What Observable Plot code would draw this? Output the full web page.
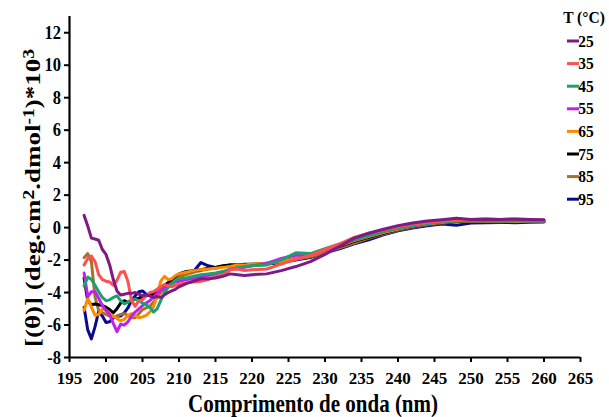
<!DOCTYPE html>
<html>
<head>
<meta charset="utf-8">
<script src="https://cdn.jsdelivr.net/npm/d3@7"></script>
<script src="https://cdn.jsdelivr.net/npm/@observablehq/plot@0.6"></script>
<style>
  body { margin: 0; background: #fff; }
  #chart { width: 609px; height: 417px; }
  #chart svg { display: block; }
  #chart svg text { font-family: "Liberation Serif", "Times New Roman", Times, serif !important; font-weight: bold; }
</style>
</head>
<body>
<div id="chart"></div>
<script>
// Wavelength grid (nm)
const wavelengths = [197, 197.5, 198, 198.5, 199, 199.5, 200, 200.5, 201, 201.5, 202, 202.5, 203, 203.5, 204, 204.5, 205, 205.5, 206, 206.5, 207, 207.5, 208, 208.5, 209, 209.5, 210, 211, 212, 213, 214, 215, 216, 217, 218, 219, 220, 222, 224, 226, 228, 230, 232, 234, 236, 238, 240, 242, 244, 246, 248, 250, 252, 254, 256, 258, 260];

// Temperatures (°C) and their colours
const temps = [25, 35, 45, 55, 65, 75, 85, 95];
const colors = ["#7d1a86", "#ff4f4f", "#1ba070", "#c21ef2", "#ff8a00", "#000000", "#a2722e", "#0a0a8a"];

// Mean residue ellipticity [θ] ×10³ at each wavelength
const t25 = [0.75, 0.1, -0.65, -0.7, -0.78, -1.35, -1.65, -2.3, -3.2, -3.9, -4.15, -4.1, -4.05, -4.05, -4.0, -4.1, -4.2, -4.15, -4.2, -4.3, -4.25, -4.3, -4.15, -4.0, -3.9, -3.8, -3.65, -3.45, -3.3, -3.15, -3.15, -3.1, -3.0, -2.85, -2.9, -2.95, -2.9, -2.85, -2.65, -2.4, -2.1, -1.65, -1.15, -0.65, -0.35, -0.1, 0.12, 0.28, 0.4, 0.48, 0.58, 0.5, 0.52, 0.5, 0.52, 0.5, 0.48];
const t35 = [-2.3, -1.9, -1.75, -2.1, -2.9, -3.2, -3.3, -3.35, -3.55, -3.25, -2.75, -2.7, -3.3, -4.5, -4.85, -4.5, -4.45, -4.2, -4.0, -3.95, -3.8, -3.65, -3.5, -3.6, -3.65, -3.55, -3.5, -3.4, -3.35, -3.3, -3.2, -3.0, -2.95, -2.6, -2.55, -2.65, -2.6, -2.55, -2.25, -1.95, -1.7, -1.35, -1.0, -0.6, -0.35, -0.15, 0.05, 0.22, 0.32, 0.4, 0.45, 0.5, 0.55, 0.5, 0.55, 0.5, 0.45];
const t45 = [-3.6, -3.05, -3.2, -3.55, -3.95, -4.3, -4.5, -4.45, -4.3, -4.2, -4.5, -4.7, -4.6, -4.45, -4.4, -4.5, -4.65, -4.75, -4.9, -5.2, -5.0, -4.5, -4.0, -3.7, -3.45, -3.25, -3.15, -3.1, -3.0, -2.9, -2.85, -2.8, -2.7, -2.6, -2.45, -2.4, -2.35, -2.3, -2.0, -1.55, -1.6, -1.3, -1.0, -0.75, -0.5, -0.25, -0.05, 0.12, 0.25, 0.35, 0.4, 0.42, 0.42, 0.4, 0.42, 0.4, 0.4];
const t55 = [-2.8, -4.25, -3.95, -3.95, -4.35, -4.8, -5.1, -5.35, -5.9, -6.4, -5.95, -6.0, -5.8, -5.45, -5.2, -5.0, -4.8, -4.65, -4.5, -4.3, -4.05, -3.85, -3.7, -3.55, -3.45, -3.35, -3.3, -3.2, -3.15, -3.05, -2.95, -2.85, -2.75, -2.55, -2.5, -2.45, -2.35, -2.2, -1.9, -1.7, -1.7, -1.4, -1.05, -0.75, -0.5, -0.25, -0.05, 0.1, 0.25, 0.38, 0.45, 0.45, 0.48, 0.45, 0.45, 0.42, 0.4];
const t65 = [-5.1, -4.35, -4.9, -5.4, -5.35, -5.0, -5.1, -5.3, -5.45, -5.6, -5.75, -5.65, -5.4, -5.3, -5.4, -5.55, -5.5, -5.4, -5.2, -4.9, -4.2, -3.3, -3.0, -3.2, -3.15, -2.95, -2.85, -2.75, -2.65, -2.6, -2.55, -2.5, -2.45, -2.4, -2.3, -2.3, -2.25, -2.2, -2.1, -1.9, -1.75, -1.45, -1.1, -0.8, -0.55, -0.3, -0.1, 0.08, 0.22, 0.32, 0.4, 0.42, 0.4, 0.42, 0.38, 0.4, 0.4];
const t75 = [-3.1, -4.5, -4.75, -4.7, -4.75, -4.8, -4.9, -5.05, -5.25, -5.0, -4.65, -4.5, -4.6, -4.5, -4.4, -4.35, -4.25, -4.2, -4.15, -4.0, -3.85, -3.7, -3.55, -3.4, -3.2, -3.0, -2.85, -2.7, -2.65, -2.6, -2.5, -2.45, -2.35, -2.3, -2.3, -2.25, -2.25, -2.25, -2.1, -1.9, -1.75, -1.45, -1.15, -0.85, -0.6, -0.35, -0.12, 0.05, 0.2, 0.3, 0.38, 0.4, 0.42, 0.4, 0.42, 0.4, 0.38];
const t85 = [-1.85, -1.6, -2.1, -4.3, -5.1, -5.25, -5.35, -5.45, -5.5, -5.45, -5.35, -5.3, -5.4, -5.55, -5.55, -5.3, -5.05, -4.95, -4.85, -4.6, -4.3, -4.0, -3.75, -3.55, -3.35, -3.2, -3.05, -2.9, -2.75, -2.65, -2.55, -2.5, -2.4, -2.35, -2.3, -2.3, -2.25, -2.2, -2.15, -1.95, -1.8, -1.55, -1.25, -0.95, -0.65, -0.4, -0.15, 0.02, 0.18, 0.28, 0.35, 0.4, 0.38, 0.36, 0.4, 0.38, 0.38];
const t95 = [-4.9, -6.3, -6.85, -6.1, -5.15, -5.45, -5.85, -5.8, -5.55, -5.45, -5.45, -5.25, -4.95, -4.5, -4.2, -3.95, -3.9, -4.1, -4.2, -4.15, -4.0, -3.85, -3.65, -3.45, -3.25, -3.05, -2.9, -2.8, -2.7, -2.15, -2.35, -2.45, -2.4, -2.3, -2.3, -2.35, -2.3, -2.25, -2.15, -2.0, -1.85, -1.55, -1.3, -1.0, -0.75, -0.45, -0.2, -0.02, 0.12, 0.22, 0.15, 0.28, 0.3, 0.32, 0.3, 0.33, 0.35];

// Axis ticks
const xTicks = [195, 200, 205, 210, 215, 220, 225, 230, 235, 240, 245, 250, 255, 260, 265];
const yTicks = [-8, -6, -4, -2, 0, 2, 4, 6, 8, 10, 12];

const series = [t25, t35, t45, t55, t65, t75, t85, t95];

// Long-format rows; highest temperature first so 25 °C ends up on top
const rows = temps
  .map((t, i) => wavelengths.map((w, j) => ({ t, w, v: series[i][j] })))
  .reverse()
  .flat();

const font = "Liberation Serif, Times New Roman, Times, serif";
const plain = (d) => String(d); // keep the ASCII hyphen for negatives

const plot = Plot.plot({
  width: 609,
  height: 417,
  marginLeft: 69,
  marginRight: 29,
  marginTop: 16,
  marginBottom: 60,
  style: { fontFamily: font, fontWeight: "bold", fontSize: "16px", color: "#000", background: "#fff", overflow: "visible" },
  x: { domain: [195, 265] },
  y: { domain: [-8, 13] },
  color: { domain: temps, range: colors },
  marks: [
    Plot.axisX(xTicks, { tickSize: 5, tickPadding: 9, strokeWidth: 2, label: null, fontSize: 17, fontFamily: font, fontWeight: "bold", tickFormat: plain }),
    Plot.axisY(yTicks, { tickSize: 5, tickPadding: 3.5, strokeWidth: 2, label: null, fontSize: 16.5, fontFamily: font, fontWeight: "bold", tickFormat: plain }),
    Plot.lineY(rows, { x: "w", y: "v", z: "t", stroke: "t", strokeWidth: 3, strokeLinejoin: "round", strokeLinecap: "round" }),
    Plot.ruleX([195], { strokeWidth: 2.2 }),
    Plot.ruleY([-8], { strokeWidth: 2.2 })
  ]
});

document.getElementById("chart").appendChild(plot);

const svg = d3.select(plot);

// Slightly taller glyphs on the y tick labels
svg.selectAll('g[aria-label="y-axis tick label"] text').each(function () {
  const t = this.getAttribute("transform") || "";
  this.setAttribute("transform", t + " scale(1,1.15)");
});

// Axis titles with superscripts
svg.append("text")
  .attr("transform", "translate(313,412) scale(1,1.15)")
  .attr("text-anchor", "middle")
  .style("font-size", "21px")
  .attr("fill", "#000")
  .text("Comprimento de onda (nm)");

const yt = svg.append("text")
  .attr("text-anchor", "middle")
  .style("font-size", "22px")
  .attr("fill", "#000");
const parts = [
  ["[(θ)] (deg.cm", false], ["2", true], [".dmol", false], ["-1", true], [")*10", false], ["3", true]
];
parts.forEach(([s, sup]) => {
  yt.append("tspan")
    .attr("baseline-shift", sup ? "40%" : null)
    .style("font-size", sup ? "16px" : null)
    .text(s);
});
// stretch the vertical title along its length to span the axis
const len = yt.node().getComputedTextLength() || 250;
yt.attr("transform", `translate(40,198) rotate(-90) scale(${298 / len},1)`);

// Legend
const legend = svg.append("g").style("font-size", "15.5px");
legend.append("text")
  .attr("transform", "translate(584,23) scale(1,1.1)")
  .attr("text-anchor", "middle")
  .attr("fill", "#000")
  .text("T (°C)");
temps.forEach((t, i) => {
  const y = 41 + i * 22.6;
  legend.append("line")
    .attr("x1", 567).attr("x2", 579)
    .attr("y1", y).attr("y2", y)
    .attr("stroke", colors[i])
    .attr("stroke-width", 3);
  legend.append("text")
    .attr("transform", `translate(586,${y + 5.5}) scale(1,1.12)`)
    .attr("fill", "#000")
    .text(String(t));
});
</script>
</body>
</html>
